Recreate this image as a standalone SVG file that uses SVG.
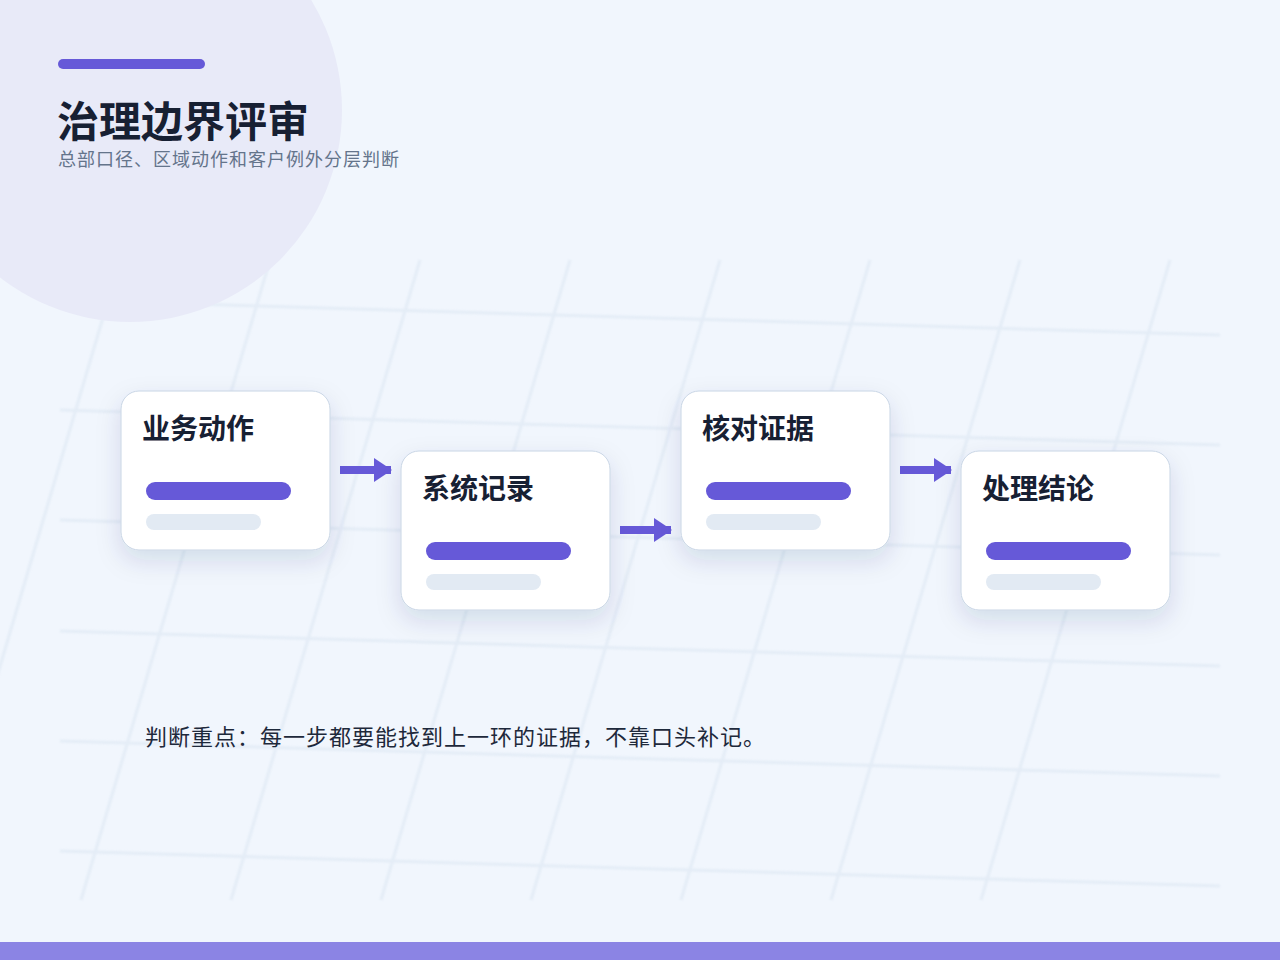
<svg xmlns="http://www.w3.org/2000/svg" width="1280" height="960" viewBox="0 0 1280 960">
<defs>
<filter id="blur" x="-10%" y="-10%" width="120%" height="120%"><feGaussianBlur stdDeviation="1.3"/></filter>
<filter id="shadow" x="-30%" y="-30%" width="160%" height="170%"><feDropShadow dx="0" dy="10" stdDeviation="12" flood-color="#1e3a5f" flood-opacity="0.13"/></filter>
<marker id="arrow" viewBox="0 0 18 24" refX="17" refY="12" markerWidth="18" markerHeight="24" markerUnits="userSpaceOnUse" orient="auto"><polygon points="0,0 18,12 0,24" fill="#6659d8"/></marker>
</defs>
<style>
.grid{stroke:#dbe6f2;stroke-width:3;fill:none;opacity:0.6}
.card{fill:#ffffff;stroke:#c8d5e5;stroke-width:1}
.ct{font-family:"Noto Sans CJK SC","Noto Sans",sans-serif;font-size:28px;font-weight:700;fill:#172033}
.bar1{fill:#6659d8}
.bar2{fill:#e2eaf3}
.conn{stroke:#6659d8;stroke-width:8;fill:none}
</style>
<rect width="1280" height="960" fill="#f1f6fd"/>
<g id="grid" class="grid" filter="url(#blur)">
<line x1="120" y1="260" x2="-69" y2="900"/>
<line x1="270" y1="260" x2="81" y2="900"/>
<line x1="420" y1="260" x2="231" y2="900"/>
<line x1="570" y1="260" x2="381" y2="900"/>
<line x1="720" y1="260" x2="531" y2="900"/>
<line x1="870" y1="260" x2="681" y2="900"/>
<line x1="1020" y1="260" x2="831" y2="900"/>
<line x1="1170" y1="260" x2="981" y2="900"/>
<line x1="60" y1="300" x2="1220" y2="335"/>
<line x1="60" y1="410" x2="1220" y2="445"/>
<line x1="60" y1="520" x2="1220" y2="555"/>
<line x1="60" y1="631" x2="1220" y2="666"/>
<line x1="60" y1="741" x2="1220" y2="776"/>
<line x1="60" y1="851" x2="1220" y2="886"/>
</g>
<circle cx="130" cy="110" r="212" fill="#e8eaf8"/>
<g id="header">
<rect x="58" y="59" width="147" height="10" rx="5" fill="#6659d8"/>
<text x="57" y="137" font-family="'Noto Sans CJK SC','Noto Sans',sans-serif" font-size="42" font-weight="700" fill="#172033">治理边界评审</text>
<text x="58" y="166" font-family="'Noto Sans CJK SC','Noto Sans',sans-serif" font-size="18" letter-spacing="1" fill="#64748b">总部口径、区域动作和客户例外分层判断</text>
</g>
<g id="connectors">
<line class="conn" x1="340" y1="470" x2="391" y2="470" marker-end="url(#arrow)"/>
<line class="conn" x1="620" y1="530" x2="671" y2="530" marker-end="url(#arrow)"/>
<line class="conn" x1="900" y1="470" x2="951" y2="470" marker-end="url(#arrow)"/>
</g>
<g id="node1">
<rect class="card" x="121" y="391" width="209" height="159" rx="18" filter="url(#shadow)"/>
<text class="ct" x="142" y="439">业务动作</text>
<rect class="bar1" x="146" y="482" width="145" height="18" rx="9"/>
<rect class="bar2" x="146" y="514" width="115" height="16" rx="8"/>
</g>
<g id="node2">
<rect class="card" x="401" y="451" width="209" height="159" rx="18" filter="url(#shadow)"/>
<text class="ct" x="422" y="499">系统记录</text>
<rect class="bar1" x="426" y="542" width="145" height="18" rx="9"/>
<rect class="bar2" x="426" y="574" width="115" height="16" rx="8"/>
</g>
<g id="node3">
<rect class="card" x="681" y="391" width="209" height="159" rx="18" filter="url(#shadow)"/>
<text class="ct" x="702" y="439">核对证据</text>
<rect class="bar1" x="706" y="482" width="145" height="18" rx="9"/>
<rect class="bar2" x="706" y="514" width="115" height="16" rx="8"/>
</g>
<g id="node4">
<rect class="card" x="961" y="451" width="209" height="159" rx="18" filter="url(#shadow)"/>
<text class="ct" x="982" y="499">处理结论</text>
<rect class="bar1" x="986" y="542" width="145" height="18" rx="9"/>
<rect class="bar2" x="986" y="574" width="115" height="16" rx="8"/>
</g>
<g id="note">
<text x="145" y="745" font-family="'Noto Sans CJK SC','Noto Sans',sans-serif" font-size="22" letter-spacing="1" fill="#1e293b">判断重点：每一步都要能找到上一环的证据，不靠口头补记。</text>
</g>
<rect id="footer" x="0" y="942" width="1280" height="18" fill="#8b84e4"/>
</svg>
